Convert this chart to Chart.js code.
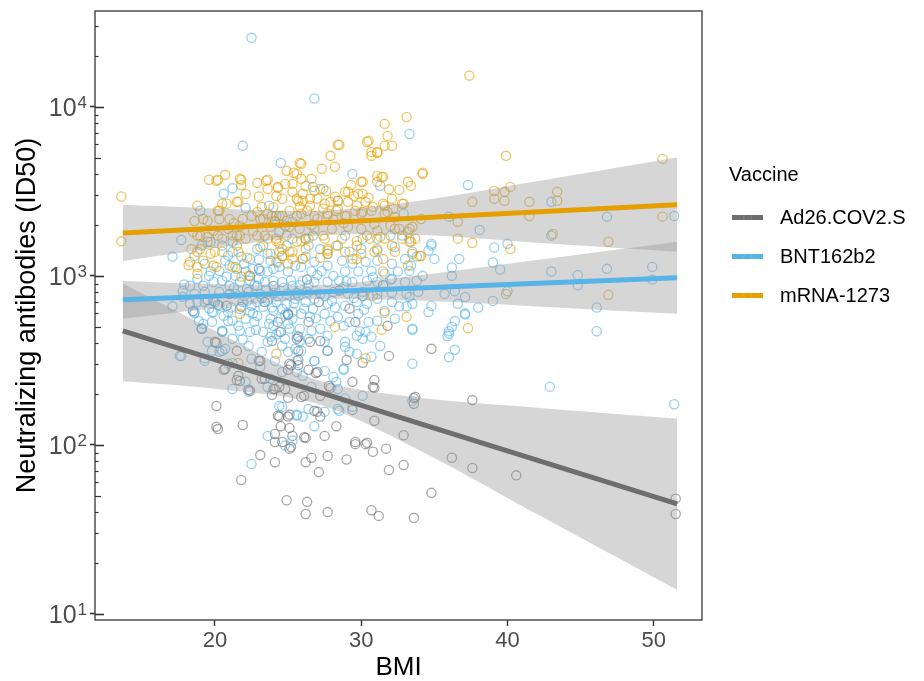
<!DOCTYPE html>
<html>
<head>
<meta charset="utf-8">
<script src="https://cdn.jsdelivr.net/npm/chart.js@4.4.1/dist/chart.umd.min.js"></script>
<style>
  body { margin: 0; background: #fff; }
  #wrap { position: relative; width: 924px; height: 681px; }
  #legend { position: absolute; left: 729px; top: 162px; font-family: 'Liberation Sans', Arial, sans-serif; color: #000; }
  #legend .title { font-size: 20px; line-height: 24px; margin-bottom: 12px; }
  #legend .item { position: relative; height: 39px; line-height: 39px; font-size: 20px; padding-left: 51px; white-space: nowrap; }
  #legend .key { position: absolute; left: 3px; top: 17px; width: 31px; height: 5px; }
  #legend .dot { position: absolute; left: 14px; top: 15px; width: 7px; height: 7px; border-radius: 50%; border: 1px solid rgba(255,255,255,0.12); }
</style>
</head>
<body>
<div id="wrap">
  <canvas id="chart" width="924" height="681"></canvas>
  <div id="legend"></div>
</div>
<script>
// series names and colours
const vaccines = ['Ad26.COV2.S', 'BNT162b2', 'mRNA-1273']
const lineColors = ['#6e6e6e', '#56B4E9', '#E69F00']
const pointColors = ['rgba(102,102,102,0.58)', 'rgba(86,180,233,0.62)', 'rgba(230,159,0,0.62)']

// observations [BMI, ID50]
const ad26Points = [
  [24.9,47],[26.3,46],[26.2,39],[27.7,40],[30.7,41],[31.2,38],[33.6,37],[34.8,52],[36.2,84],[37.6,73],
  [40.6,66],[51.5,48],[51.5,39],[21.8,62],[20.1,128],[20.2,124],[20.1,170],[21.9,131],[23.1,87],[24.1,79],
  [25.1,95],[25.2,97],[26.2,79],[26.6,84],[27.7,86],[27.1,69],[29.0,82],[29.6,101],[30.3,101],[30.8,91],
  [31.7,95],[31.9,71],[24.1,104],[24.6,104],[25.3,113],[26.2,110],[27.5,113],[28.3,129],[24.5,129],[25.1,126],
  [24.4,147],[25.1,151],[26.8,159],[27.2,147],[29.4,161],[30.9,139],[25.9,192],[25.0,190],[23.9,198],[24.1,214],
  [22.3,212],[21.6,256],[21.5,242],[20.6,278],[20.1,402],[19.1,486],[21.5,360],[23.2,246],[23.1,314],[25.0,278],
  [25.2,296],[25.7,318],[26.4,278],[26.9,266],[27.8,223],[27.9,218],[29.0,318],[29.4,236],[30.1,306],[30.9,242],
  [30.9,218],[31.9,336],[27.7,360],[29.6,534],[27.2,412],[26.5,407],[25.7,436],[25.0,588],[24.5,466],[25.7,360],
  [23.9,412],[23.4,246],[24.8,214],[34.8,370],[33.6,189],[37.6,184],[32.9,114],[32.9,76],[31.8,506],[26.4,534],
  [30.8,220],[27.0,270],[26.1,195],[27.2,195],[33.7,192],[33.6,175],[26.1,111],[29.6,104],[30.4,103],[27.0,157],
  [25.6,424],[20.2,675],[20.8,665],[21.8,656],[23.4,701],[25.0,596],[24.3,534],[20.0,407],[23.0,314],[20.7,282],
  [21.7,239],[22.4,209],[25.1,302],[25.7,296],[24.0,214],[24.4,220],[25.0,147],[24.3,149],[24.1,116],[22.4,1000],
  [24.0,870],[26.3,950],[28.5,820],[21.0,780],[30.1,760],[23.0,1100],[19.5,720],[27.1,700],[31.5,880],[18.5,620],
  [29.2,640]
]
const bntPoints = [
  [22.5,25600],[26.8,11200],[21.9,5880],[24.5,4660],[29.4,4010],[21.2,3300],[20.6,3060],[22.1,2520],[23.7,2600],[17.7,1630],
  [17.1,1300],[33.3,6900],[37.3,3450],[46.8,2240],[51.4,2260],[43.0,2740],[36.0,2240],[38.1,1870],[43.0,1730],[39.1,1470],
  [34.8,1510],[34.6,1410],[36.7,1260],[39.0,1200],[35.0,1260],[39.5,1090],[43.0,1060],[44.8,1010],[46.8,1100],[49.9,1130],
  [49.9,950],[44.8,880],[46.1,650],[39.0,711],[38.0,650],[36.6,683],[35.7,782],[36.2,1120],[33.4,1150],[37.1,600],
  [46.1,470],[42.9,221],[51.4,174],[33.5,302],[33.5,480],[36.4,365],[36.0,330],[35.9,440],[36.0,470],[36.4,540],
  [34.6,610],[33.1,660],[33.5,182],[40.0,1550],[34.8,1550],[36.2,1000],[36.4,810],[37.1,750],[40.0,810],[34.8,665],
  [37.1,590],[36.2,500],[36.0,455],[32.0,950],[17.1,660],[18.6,600],[17.9,890],[17.7,335],[19.3,325],[19.1,490],
  [19.9,610],[20.5,470],[20.5,360],[21.2,305],[24.2,2260],[19.0,2430],[24.4,1820],[24.8,1980],[25.3,2090],[22.9,1440],
  [23.3,1510],[23.6,1350],[23.8,1230],[24.4,1390],[24.9,1510],[25.3,1660],[22.4,1260],[21.8,1300],[21.2,1390],[21.2,1590],
  [20.5,1510],[19.7,1590],[19.1,1510],[18.6,1310],[19.3,1180],[19.7,1060],[20.3,1070],[20.7,1230],[21.0,1150],[21.5,1100],
  [22.1,1060],[22.6,1100],[23.1,1070],[23.6,1060],[24.0,1100],[24.4,1130],[25.0,1060],[25.5,1150],[18.8,960],[19.2,873],
  [19.9,920],[20.5,935],[21.0,873],[21.7,920],[22.4,935],[22.9,873],[23.4,920],[24.0,935],[24.6,920],[25.3,873],
  [17.8,815],[18.3,873],[18.6,782],[19.3,804],[20.3,804],[21.4,782],[22.3,804],[23.1,782],[24.0,793],[24.9,782],
  [25.6,793],[17.8,751],[18.6,612],[19.1,486],[19.2,520],[19.8,612],[19.8,534],[20.3,665],[20.9,612],[21.2,542],
  [21.6,506],[21.7,473],[20.5,466],[20.3,355],[19.3,314],[17.6,336],[20.7,370],[21.2,424],[22.4,612],[22.7,534],
  [22.9,580],[23.3,466],[23.8,436],[24.0,506],[24.4,466],[24.8,424],[25.1,486],[25.6,442],[22.4,466],[22.3,385],
  [22.5,323],[23.2,355],[23.6,407],[24.6,385],[25.0,355],[25.5,370],[25.6,270],[24.6,270],[23.8,246],[22.1,236],
  [21.2,214],[22.3,206],[24.4,170],[23.6,113],[24.8,99],[25.3,106],[18.3,683],[18.8,701],[19.3,701],[19.9,711],
  [22.2,711],[22.9,701],[23.6,711],[24.2,701],[24.9,683],[25.5,731],[21.7,638],[22.5,665],[23.3,656],[24.0,621],
  [24.6,638],[25.3,612],[25.3,557],[23.8,557],[22.1,557],[19.5,407],[19.8,360],[20.9,302],[23.1,290],[24.1,314],
  [26.7,3360],[27.4,3270],[28.4,2780],[31.3,3410],[32.9,2330],[33.3,1660],[32.8,1730],[31.1,1660],[32.0,1730],[28.9,1730],
  [30.1,1660],[26.7,1730],[26.2,1660],[26.4,1510],[27.2,1440],[27.7,1350],[28.4,1510],[29.2,1390],[30.0,1440],[31.1,1410],
  [32.3,1480],[33.5,1390],[26.2,1300],[26.8,1210],[27.7,1150],[28.7,1230],[29.4,1180],[30.3,1210],[31.1,1230],[32.1,1180],
  [33.0,1260],[33.8,1300],[25.9,1130],[26.6,1060],[27.3,1070],[28.1,1000],[28.9,1060],[29.8,1060],[30.7,1070],[31.6,1030],
  [32.5,1060],[33.3,1070],[34.2,1000],[26.0,935],[26.8,920],[27.7,920],[28.5,935],[29.4,920],[30.4,935],[31.1,920],
  [32.1,960],[33.0,920],[33.8,935],[26.3,804],[27.2,782],[28.1,804],[29.1,782],[30.1,804],[31.1,782],[32.1,793],
  [33.1,782],[33.9,804],[25.7,762],[26.2,701],[26.8,731],[27.7,683],[28.0,711],[28.9,665],[29.7,701],[30.4,683],
  [31.1,731],[32.1,701],[33.3,751],[33.5,683],[25.9,596],[26.5,572],[26.7,638],[27.5,596],[28.4,572],[28.8,506],
  [29.2,534],[29.8,596],[30.5,534],[31.1,542],[32.3,557],[33.5,486],[25.8,486],[26.6,473],[27.2,486],[27.7,442],
  [25.8,412],[26.4,424],[27.5,407],[28.9,407],[29.7,442],[30.1,424],[30.7,436],[31.3,385],[30.3,466],[25.9,360],
  [26.8,314],[28.9,380],[29.2,355],[29.7,346],[27.7,360],[30.7,332],[28.8,282],[27.5,274],[26.0,256],[28.1,252],
  [28.3,236],[30.1,195],[28.9,188],[26.6,220],[26.4,163],[28.4,163],[29.4,168],[26.0,147],[26.8,129],[25.6,149],
  [27.5,157],[28.5,159],[22.5,77],[24.6,168],[25.6,151],[23.6,220],[28.8,278],[25.6,314],[26.8,314],[28.4,214],
  [20.5,473],[20.8,990],[21.3,850],[22.0,760],[22.7,880],[23.0,960],[23.5,830],[24.3,760],[24.7,850],[25.2,940],
  [25.8,880],[20.0,700],[20.6,580],[21.1,650],[21.9,700],[22.6,600],[23.2,740],[23.9,650],[24.5,560],[25.0,520],
  [25.4,690],[26.1,640],[26.9,560],[27.5,760],[28.2,650],[28.8,860],[29.5,740],[30.2,630],[22.8,480],[23.7,520],
  [24.2,450],[21.9,420],[20.9,540],[19.6,640],[18.9,540],[27.9,540],[29.9,470],[31.6,620],[32.6,660],[21.4,1000],
  [22.0,1180],[23.0,1250],[24.3,1200],[19.6,1000],[20.9,1320],[26.4,880],[27.0,1010],[29.0,930],[30.8,980],[24.8,590],
  [22.2,840]
]
const mrnaPoints = [
  [13.6,2950],[13.6,1600],[31.6,7930],[31.8,6730],[32.1,5880],[30.5,6290],[30.7,5130],[31.1,5340],[28.5,5960],[27.9,5130],
  [28.2,4420],[27.3,4300],[25.8,4660],[24.9,4180],[25.4,4070],[26.6,3750],[25.9,3750],[25.3,3500],[23.6,3700],[22.9,3550],
  [21.8,3700],[21.8,3450],[20.7,3960],[20.2,3700],[19.6,3700],[24.3,3360],[24.2,2970],[24.6,2860],[25.3,3140],[25.6,2860],
  [26.0,2780],[26.5,2860],[27.0,2860],[27.2,3270],[27.6,3180],[27.9,2740],[28.4,2780],[29.1,3140],[29.5,2970],[30.0,3600],
  [30.1,3060],[31.1,3900],[31.5,3850],[31.1,3600],[32.1,2860],[31.5,2670],[18.8,2600],[19.2,2170],[20.3,2430],[20.8,2670],
  [21.0,2170],[21.6,2740],[21.9,2170],[22.9,2390],[23.2,2560],[23.3,2170],[23.9,2260],[24.1,2110],[24.4,2260],[24.9,2110],
  [25.1,2430],[25.8,2560],[26.3,2430],[27.0,2170],[27.7,2260],[28.3,2430],[29.0,2260],[29.7,2600],[30.1,2390],[30.8,2560],
  [31.8,2390],[32.2,2490],[18.5,1820],[19.0,1730],[18.4,1440],[18.8,1390],[19.5,1590],[20.0,1390],[20.5,1660],[21.2,1730],
  [21.6,1390],[21.7,1730],[23.4,1730],[24.2,1660],[24.6,1440],[25.1,1390],[25.3,1260],[26.2,1660],[27.4,1730],[27.7,1410],
  [28.3,1510],[29.7,1510],[30.4,1730],[31.1,1440],[31.3,1700],[32.1,1510],[18.3,1210],[18.8,1130],[20.1,1130],[21.2,1130],
  [24.6,1310],[26.0,1260],[29.4,1260],[31.5,1060],[18.2,1160],[21.7,596],[24.2,346],[21.6,305],[30.8,762],[31.6,604],
  [33.1,572],[31.4,480],[28.2,499],[30.3,325],[37.4,15300],[33.1,8700],[39.9,5130],[50.6,4920],[34.2,4070],[33.2,3600],
  [33.4,3410],[32.6,3220],[32.9,2670],[39.1,3180],[39.1,2860],[39.8,3140],[39.8,2780],[40.2,3360],[37.6,2740],[41.5,2740],
  [41.5,2260],[43.4,3140],[43.4,2780],[50.6,2240],[34.1,2170],[36.6,2090],[33.3,1900],[32.6,1900],[36.6,1660],[37.6,1570],
  [40.2,1440],[43.1,1770],[46.9,1590],[33.4,1590],[34.1,1310],[46.9,772],[39.9,782],[37.3,490],
  [20.1,3650],[21.7,3750],[23.5,3650],[23.6,3270],[24.3,3310],[24.8,3500],[25.6,4010],[21.5,2740],[20.5,2670],[20.2,2430],
  [18.6,2110],[19.5,2110],[20.3,2170],[21.7,1980],[22.5,2260],[23.1,2170],[23.6,2330],[24.1,2090],[24.6,2260],[25.1,1950],
  [25.6,2260],[18.8,1730],[19.5,1700],[20.2,1730],[21.5,1730],[22.1,1660],[22.9,1730],[23.6,1660],[24.2,1610],[24.9,1730],
  [25.6,1590],[19.0,1440],[19.7,1350],[20.5,1390],[21.5,1510],[23.1,1480],[23.8,1350],[24.6,1310],[25.3,1390],[19.2,1230],
  [19.9,1150],[21.4,1130],[22.3,1000],[18.8,1030],[24.2,1210],[25.0,1180],[21.8,990],
  [28.4,5960],[25.9,4600],[30.7,5400],[31.6,5880],[30.4,6200],[31.1,5400],[30.1,3600],[31.4,3850],[34.2,4010],[32.8,2670],
  [31.6,2600],[28.9,3140],[29.8,3060],[30.3,2740],[29.1,2740],[28.2,2940],[26.8,3190],[26.0,3060],[25.7,2780],[26.5,2600],
  [27.5,2670],[28.4,2490],[29.6,2430],[30.7,2430],[31.6,2330],[32.3,2230],[33.5,1950],[25.9,2330],[26.8,2260],[27.7,2330],
  [28.9,2260],[30.0,2330],[30.9,2030],[32.0,1980],[33.2,1820],[25.8,1900],[26.8,1900],[28.0,1900],[29.1,1950],[30.0,1900],
  [31.1,1850],[32.3,1900],[33.7,1660],[26.4,1660],[27.5,1660],[28.7,1660],[29.7,1610],[30.6,1660],[31.6,1660],[32.8,1660],
  [33.3,1590],[33.5,1350],[34.0,1310],[26.2,1440],[27.7,1440],[28.9,1390],[30.0,1350],[30.9,1390],[32.3,1390],[26.0,1260],
  [27.7,1350],[29.7,1260],[31.5,1260],[33.2,1150],
  [22.1,3050],[23.0,2950],[24.0,2550],[26.2,3400],[27.4,2500],[28.8,2050],[29.3,3450],[21.3,2050],[22.6,1850],[19.9,1850],
  [20.9,1900],[23.8,1950],[26.6,2000],[28.1,2150],[24.4,1550],[25.9,1600],[22.2,1280],[27.2,1280],[30.5,2900],[31.9,3250]
]

// linear fits on log scale, ends of the BMI range
const fitBmi = [13.7, 51.6]
const ad26Fit = [473, 44.8]
const bntFit = [721, 973]
const mrnaFit = [1795, 2630]

// 95% confidence bands
const bandBmi = [13.7, 20, 27, 34, 42, 51.6]
const ad26Upper = [900, 474, 242, 190, 166, 143]
const ad26Lower = [238, 215, 175, 92.7, 39, 13.9]
const bntUpper = [933, 895, 881, 1009, 1239, 1589]
const bntLower = [557, 643, 729, 714, 659, 596]
const mrnaUpper = [2630, 2506, 2427, 2786, 3631, 5023]
const mrnaLower = [1225, 1462, 1734, 1742, 1570, 1390]

// axis ticks
const xTicks = [20, 30, 40, 50]
const yMajor = [10, 100, 1000, 10000]
const yMantissa = [2, 3, 4, 5, 6, 7, 8, 9]

const FONT = "'Liberation Sans', Arial, sans-serif"
const isMajor = v => yMajor.some(m => Math.abs(v - m) < 1e-6)

const toXY = pts => pts.map(p => ({ x: p[0], y: p[1] }))

const pointSet = (pts, color, order) => ({
    type: 'scatter',
    data: toXY(pts),
    pointRadius: 4.6,
    pointBorderWidth: 1.3,
    pointBackgroundColor: 'rgba(0,0,0,0)',
    pointBorderColor: color,
    order: order
})

const bandSet = (vals, fill) => ({
    type: 'line',
    data: bandBmi.map((x, i) => ({ x: x, y: vals[i] })),
    borderWidth: 0,
    pointRadius: 0,
    tension: 0.3,
    fill: fill,
    backgroundColor: 'rgba(153,153,153,0.4)',
    order: 1
})

const fitSet = (vals, color) => ({
    type: 'line',
    data: fitBmi.map((x, i) => ({ x: x, y: vals[i] })),
    borderColor: color,
    borderWidth: 5,
    borderCapStyle: 'butt',
    pointRadius: 0,
    fill: false,
    order: 0
})

// panel border, inside log ticks, and 10^k labels with raised exponents
const framePlugin = {
    id: 'frame',
    afterDraw(chart) {
        const { ctx, chartArea: a, scales } = chart
        const y = scales.y
        ctx.save()
        ctx.strokeStyle = '#444'
        ctx.lineWidth = 1.4
        ctx.strokeRect(a.left, a.top, a.right - a.left, a.bottom - a.top)
        ctx.strokeStyle = '#333'
        yMajor.concat([1e0]).forEach(dec => {
            [1].concat(yMantissa).forEach(m => {
                const v = dec * m
                if (v < y.min || v > y.max) return
                const py = Math.round(y.getPixelForValue(v)) + 0.5
                const len = m === 1 ? 9 : (m === 5 ? 6 : 3.5)
                ctx.lineWidth = m === 1 ? 1.6 : 1.2
                ctx.beginPath()
                ctx.moveTo(a.left, py)
                ctx.lineTo(a.left + len, py)
                ctx.stroke()
            })
        })
        ctx.fillStyle = '#4d4d4d'
        ctx.textBaseline = 'alphabetic'
        yMajor.forEach(v => {
            const py = y.getPixelForValue(v)
            const exp = String(Math.round(Math.log10(v)))
            ctx.font = '17px ' + FONT
            const ew = ctx.measureText(exp).width
            const right = a.left - 8
            ctx.textAlign = 'right'
            ctx.fillText(exp, right, py + 1)
            ctx.font = '25px ' + FONT
            ctx.fillText('10', right - ew - 1, py + 9)
        })
        ctx.restore()
    }
}

new Chart(document.getElementById('chart'), {
    type: 'scatter',
    data: {
        datasets: [
            fitSet(ad26Fit, lineColors[0]),
            fitSet(bntFit, lineColors[1]),
            fitSet(mrnaFit, lineColors[2]),
            bandSet(ad26Upper, '+1'),
            bandSet(ad26Lower, false),
            bandSet(bntUpper, '+1'),
            bandSet(bntLower, false),
            bandSet(mrnaUpper, '+1'),
            bandSet(mrnaLower, false),
            pointSet(mrnaPoints, pointColors[2], 2),
            pointSet(bntPoints, pointColors[1], 3),
            pointSet(ad26Points, pointColors[0], 4)
        ]
    },
    options: {
        responsive: false,
        animation: false,
        devicePixelRatio: 1,
        layout: { padding: { left: 5, right: 222, top: 11, bottom: 0 } },
        plugins: {
            legend: { display: false },
            tooltip: { enabled: false }
        },
        scales: {
            x: {
                type: 'linear',
                min: 11.8,
                max: 53.3,
                afterFit: s => { s.height = 61 },
                afterBuildTicks: s => { s.ticks = xTicks.map(v => ({ value: v })) },
                border: { display: false },
                grid: { drawOnChartArea: false, drawTicks: true, tickLength: 6, tickColor: '#333', tickWidth: 1.4 },
                ticks: { font: { family: FONT, size: 22 }, color: '#4d4d4d', padding: 2, maxRotation: 0 },
                title: { display: true, text: 'BMI', color: '#000', font: { family: FONT, size: 26, lineHeight: 1 }, padding: { top: 0, bottom: 0 } }
            },
            y: {
                type: 'logarithmic',
                min: 9.2,
                max: 36900,
                afterFit: s => { s.width = 90 },
                border: { display: false },
                grid: {
                    drawOnChartArea: false, drawTicks: true, tickLength: 5,
                    tickColor: c => (c.tick && isMajor(c.tick.value)) ? '#333' : 'rgba(0,0,0,0)',
                    tickWidth: 1.6
                },
                ticks: { autoSkip: false, callback: () => '' },
                title: { display: true, text: 'Neutralizing antibodies (ID50)', color: '#000', font: { family: FONT, size: 27, lineHeight: 1 }, padding: { top: 9, bottom: 0 } }
            }
        }
    },
    plugins: [framePlugin]
})

// legend built from the same series names and colours
const legend = document.getElementById('legend')
legend.innerHTML = '<div class="title">Vaccine</div>' + vaccines.map((name, i) =>
    '<div class="item"><span class="key" style="background:' + lineColors[i] + '"></span>' +
    '<span class="dot"></span>' + name + '</div>').join('')
</script>
</body>
</html>
